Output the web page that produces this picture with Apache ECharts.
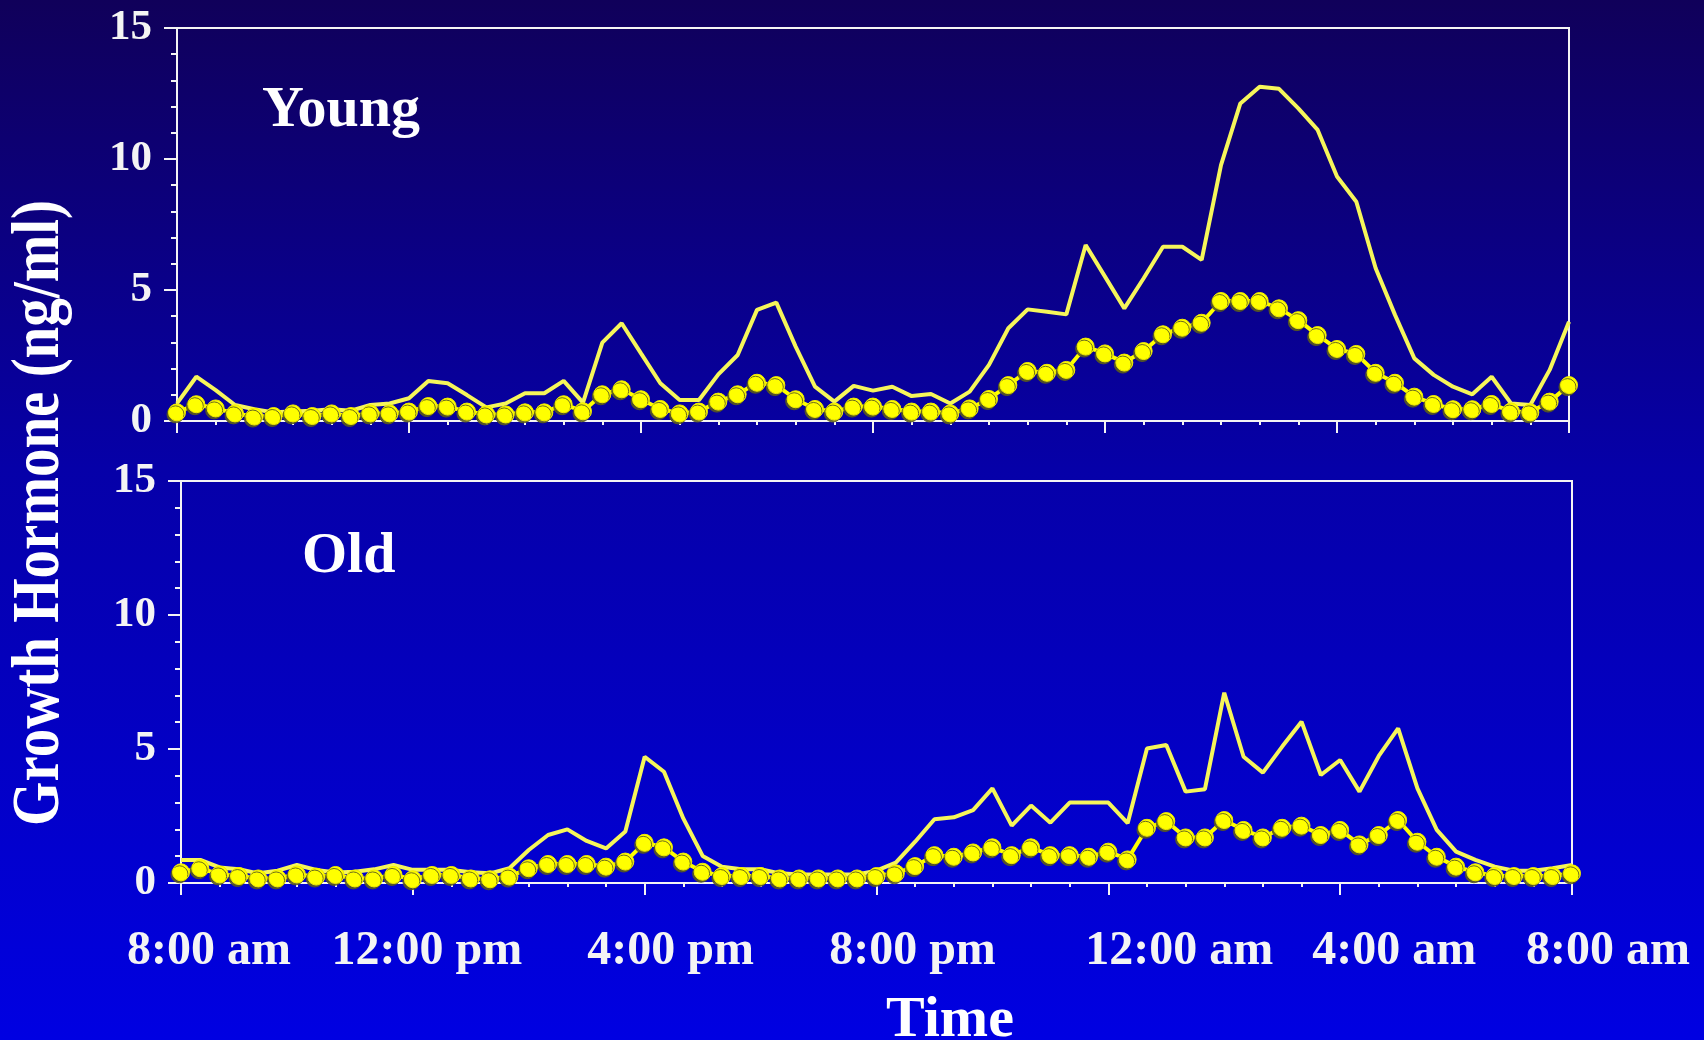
<!DOCTYPE html>
<html>
<head>
<meta charset="utf-8">
<script src="https://cdn.jsdelivr.net/npm/echarts@6/dist/echarts.min.js"></script>
<style>
  html, body { margin: 0; padding: 0; background: #0000e0; }
  #chart { width: 1704px; height: 1040px; }
</style>
</head>
<body>
<div id="chart"></div>
<script>
// Samples are taken every 20 minutes, from 8:00 am to 8:00 am the next day.
const sampleMinutes = 20;

// Axis tick labels, one every 4 hours.
const tickLabels = ['8:00 am', '12:00 pm', '4:00 pm', '8:00 pm', '12:00 am', '4:00 am', '8:00 am'];

// Young subject: individual profile (plain line) and mean (dotted line), ng/ml.
const youngLine = [
  0.67, 1.69, 1.18, 0.61, 0.45, 0.33, 0.36, 0.39, 0.45, 0.39, 0.61, 0.67, 0.87, 1.53, 1.44, 0.99,
  0.52, 0.67, 1.06, 1.06, 1.53, 0.70, 2.99, 3.73, 2.58, 1.44, 0.80, 0.80, 1.78, 2.52, 4.24, 4.52,
  2.84, 1.31, 0.74, 1.34, 1.16, 1.31, 0.95, 1.03, 0.67, 1.12, 2.14, 3.54, 4.26, 4.17, 4.07, 6.72,
  5.51, 4.30, 5.45, 6.65, 6.65, 6.15, 9.77, 12.12, 12.76, 12.68, 11.93, 11.11, 9.33, 8.37, 5.83, 4.05,
  2.39, 1.76, 1.31, 1.02, 1.69, 0.67, 0.61, 1.95, 3.79
];
const youngDots = [
  0.33, 0.64, 0.48, 0.29, 0.17, 0.19, 0.29, 0.19, 0.29, 0.19, 0.29, 0.29, 0.36, 0.57, 0.55, 0.36,
  0.25, 0.25, 0.33, 0.33, 0.64, 0.37, 1.02, 1.21, 0.83, 0.46, 0.29, 0.36, 0.74, 1.02, 1.46, 1.37,
  0.83, 0.46, 0.36, 0.55, 0.55, 0.46, 0.36, 0.36, 0.29, 0.48, 0.84, 1.37, 1.91, 1.84, 1.95, 2.84,
  2.58, 2.23, 2.67, 3.31, 3.56, 3.75, 4.58, 4.58, 4.58, 4.30, 3.85, 3.28, 2.75, 2.56, 1.84, 1.46,
  0.93, 0.65, 0.45, 0.45, 0.65, 0.36, 0.33, 0.74, 1.37
];

// Old subject: individual profile (plain line) and mean (dotted line), ng/ml.
const oldLine = [
  0.86, 0.86, 0.58, 0.51, 0.36, 0.46, 0.67, 0.49, 0.39, 0.42, 0.51, 0.67, 0.49, 0.49, 0.49, 0.40,
  0.36, 0.55, 1.23, 1.79, 2.00, 1.57, 1.29, 1.92, 4.71, 4.15, 2.41, 1.01, 0.61, 0.51, 0.51, 0.36,
  0.32, 0.32, 0.32, 0.32, 0.46, 0.76, 1.54, 2.38, 2.45, 2.72, 3.53, 2.14, 2.89, 2.25, 3.00, 3.00,
  3.00, 2.23, 5.02, 5.15, 3.41, 3.50, 7.10, 4.71, 4.12, 5.09, 6.02, 4.03, 4.59, 3.41, 4.74, 5.77,
  3.53, 1.98, 1.17, 0.86, 0.61, 0.46, 0.46, 0.55, 0.67
];
const oldDots = [
  0.40, 0.55, 0.32, 0.26, 0.17, 0.17, 0.32, 0.24, 0.30, 0.17, 0.17, 0.30, 0.14, 0.30, 0.30, 0.17,
  0.14, 0.24, 0.55, 0.71, 0.71, 0.71, 0.61, 0.80, 1.50, 1.33, 0.80, 0.42, 0.26, 0.26, 0.26, 0.17,
  0.17, 0.17, 0.17, 0.17, 0.26, 0.36, 0.63, 1.04, 0.98, 1.14, 1.33, 1.04, 1.33, 1.04, 1.04, 0.98,
  1.17, 0.88, 2.06, 2.31, 1.70, 1.70, 2.35, 1.98, 1.70, 2.06, 2.14, 1.79, 1.98, 1.44, 1.79, 2.35,
  1.54, 0.98, 0.61, 0.40, 0.26, 0.26, 0.26, 0.26, 0.36
];

// Horizontal nudge (px) of each time label to the right of its tick.
const labelShift = [28, 14, 26, 36, 71, 54, 36];

const SERIF = "'Liberation Serif', 'Times New Roman', serif";
const WHITE = '#f4f4f4';
const YELLOW = '#ffff00';
const PALE_YELLOW = '#f6f65a';

// Convert a series of values into [hours since 8:00 am, value] pairs.
function toPoints(values) {
  return values.map((v, i) => [i * sampleMinutes / 60, v]);
}

const richLabels = {};
labelShift.forEach((s, i) => {
  richLabels['t' + i] = {
    fontFamily: SERIF, fontWeight: 'bold', fontSize: 48, color: WHITE,
    padding: [0, 0, 0, 2 * s]
  };
});

function xAxisFor(gridIndex, withLabels) {
  return {
    gridIndex: gridIndex,
    type: 'value',
    min: 0, max: 24, interval: 4,
    axisLine: { show: true, onZero: false, lineStyle: { color: WHITE, width: 2 } },
    axisTick: { show: true, inside: false, length: 12, lineStyle: { color: WHITE, width: 2 } },
    minorTick: { show: true, splitNumber: 6, length: 4, lineStyle: { color: WHITE, width: 2 } },
    splitLine: { show: false },
    minorSplitLine: { show: false },
    axisLabel: withLabels ? {
      show: true,
      margin: 45,
      formatter: function (v) {
        const i = Math.round(v / 4);
        return '{t' + i + '|' + tickLabels[i] + '}';
      },
      rich: richLabels
    } : { show: false }
  };
}

function yAxisFor(gridIndex) {
  return {
    gridIndex: gridIndex,
    type: 'value',
    min: 0, max: 15, interval: 5,
    axisLine: { show: true, onZero: false, lineStyle: { color: WHITE, width: 2 } },
    axisTick: { show: true, inside: false, length: 13, lineStyle: { color: WHITE, width: 2 } },
    minorTick: { show: true, splitNumber: 5, length: 6, lineStyle: { color: WHITE, width: 2 } },
    splitLine: { show: false },
    minorSplitLine: { show: false },
    axisLabel: {
      show: true, margin: 25,
      fontFamily: SERIF, fontWeight: 'bold', fontSize: 43, color: WHITE
    }
  };
}

function plainLine(values, axisIndex) {
  return {
    type: 'line',
    xAxisIndex: axisIndex, yAxisIndex: axisIndex,
    data: toPoints(values),
    showSymbol: false,
    symbol: 'none',
    lineStyle: { color: PALE_YELLOW, width: 4 },
    z: 2
  };
}

function dottedLine(values, axisIndex) {
  return {
    type: 'line',
    xAxisIndex: axisIndex, yAxisIndex: axisIndex,
    data: toPoints(values),
    symbol: 'circle',
    symbolSize: 17,
    showSymbol: true,
    lineStyle: { color: YELLOW, width: 4 },
    itemStyle: {
      color: YELLOW,
      borderColor: '#f0ec00',
      borderWidth: 1,
      shadowColor: 'rgba(90, 90, 30, 0.9)',
      shadowBlur: 0,
      shadowOffsetX: -1.5,
      shadowOffsetY: 2
    },
    z: 3
  };
}

const chart = echarts.init(document.getElementById('chart'), null, { renderer: 'canvas' });

chart.setOption({
  animation: false,
  backgroundColor: {
    type: 'linear', x: 0, y: 0, x2: 0, y2: 1,
    colorStops: [
      { offset: 0, color: '#10005a' },
      { offset: 0.45, color: '#0600a8' },
      { offset: 1, color: '#0000e2' }
    ]
  },
  grid: [
    { left: 177, top: 28, width: 1392, height: 393, show: true, borderColor: WHITE, borderWidth: 2, backgroundColor: 'transparent' },
    { left: 181, top: 481, width: 1391, height: 402, show: true, borderColor: WHITE, borderWidth: 2, backgroundColor: 'transparent' }
  ],
  xAxis: [xAxisFor(0, false), xAxisFor(1, true)],
  yAxis: [yAxisFor(0), yAxisFor(1)],
  series: [
    plainLine(youngLine, 0),
    dottedLine(youngDots, 0),
    plainLine(oldLine, 1),
    dottedLine(oldDots, 1)
  ],
  graphic: [
    {
      type: 'text', x: 262, y: 111,
      style: { text: 'Young', fill: '#ffffff', font: 'bold 58px ' + SERIF, align: 'left', verticalAlign: 'middle' }
    },
    {
      type: 'text', x: 302, y: 557,
      style: { text: 'Old', fill: '#ffffff', font: 'bold 58px ' + SERIF, align: 'left', verticalAlign: 'middle' }
    },
    {
      type: 'text', x: 950, y: 1021,
      style: { text: 'Time', fill: '#ffffff', font: 'bold 58px ' + SERIF, align: 'center', verticalAlign: 'middle' }
    },
    {
      type: 'text', x: 40, y: 513, rotation: Math.PI / 2, scaleY: 1.2,
      style: { text: 'Growth Hormone (ng/ml)', fill: '#ffffff', font: 'bold 57px ' + SERIF, align: 'center', verticalAlign: 'middle' }
    }
  ]
});
</script>
</body>
</html>
